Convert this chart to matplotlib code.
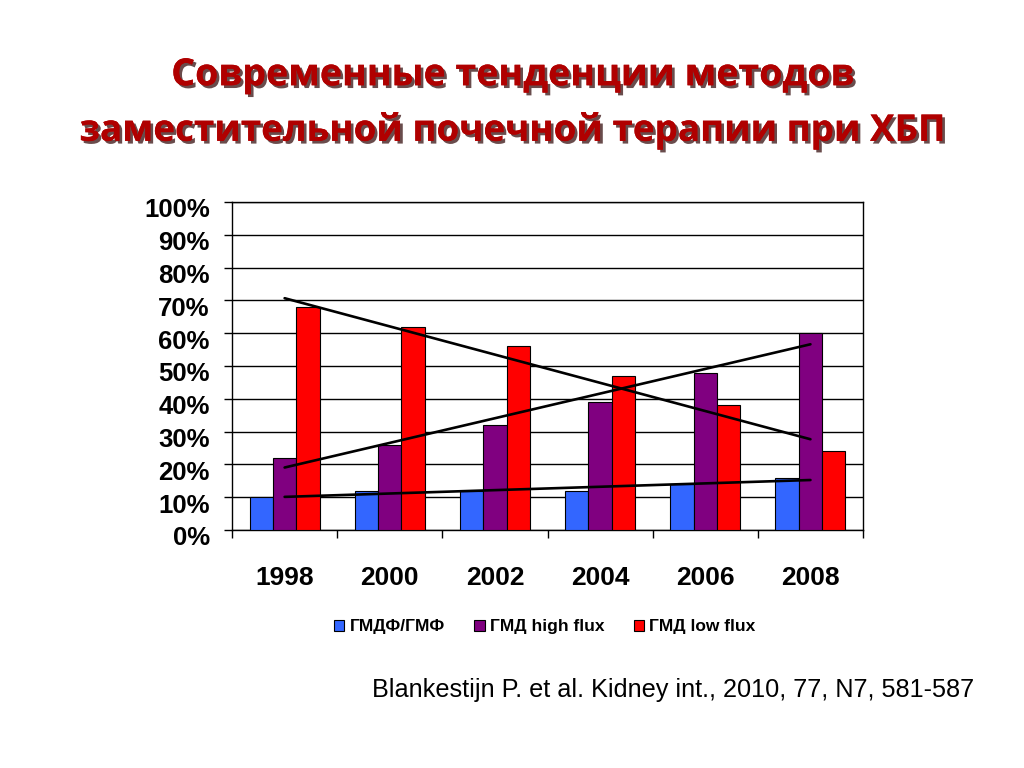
import numpy as np
import matplotlib.pyplot as plt
import matplotlib.patheffects as pe
import matplotlib.transforms as mtrans
from matplotlib.patches import Patch

years = ['1998', '2000', '2002', '2004', '2006', '2008']
gmdf = [10, 12, 12, 12, 14, 16]          # ГМДФ/ГМФ
high_flux = [22, 26, 32, 39, 48, 60]     # ГМД high flux
low_flux = [68, 62, 56, 47, 38, 24]      # ГМД low flux
series_names = ['ГМДФ/ГМФ', 'ГМД high flux', 'ГМД low flux']
colors = ['#3366FF', '#800080', '#FF0000']

fig = plt.figure(figsize=(10.24, 7.68), dpi=100)
ax = fig.add_axes([0.2266, 0.3099, 0.6162, 0.4271])

x = np.arange(len(years))
w = 0.222
for i, (vals, c) in enumerate(zip([gmdf, high_flux, low_flux], colors)):
    ax.bar(x + (i - 1) * w, vals, width=w, color=c, edgecolor='black',
           linewidth=0.8, zorder=3)

# linear trendlines (as in Excel)
for vals in [gmdf, high_flux, low_flux]:
    k, b = np.polyfit(x, vals, 1)
    ax.plot([x[0], x[-1]], [k * x[0] + b, k * x[-1] + b], color='black',
            lw=1.9, zorder=4, solid_capstyle='round')

ax.set_xlim(-0.5, len(years) - 0.5)
ax.set_ylim(0, 100)
ax.set_yticks(np.arange(0, 101, 10))
ax.set_yticklabels([f'{v}%' for v in range(0, 101, 10)],
                   fontsize=18.5, fontweight='bold', family='Liberation Sans')
ax.yaxis.grid(True, color='black', lw=1.0, zorder=0)
ax.tick_params(axis='y', length=6, width=1, pad=10, direction='out')
shift = mtrans.ScaledTranslation(0, -6 / 100, fig.dpi_scale_trans)
for lab in ax.get_yticklabels():
    lab.set_transform(lab.get_transform() + shift)

ax.set_xticks(x)
ax.set_xticklabels(years, fontsize=19, fontweight='bold', family='Liberation Sans')
ax.set_xticks(np.arange(-0.5, len(years)), minor=True)
ax.tick_params(axis='x', which='major', length=0, pad=26)
ax.tick_params(axis='x', which='minor', length=6, width=1, direction='out')
for s in ax.spines.values():
    s.set_color('black')
    s.set_linewidth(1.0)

handles = [Patch(facecolor=c, edgecolor='black', linewidth=0.8) for c in colors]
fig.legend(handles, series_names, loc='center', bbox_to_anchor=(0.532, 0.184),
           ncol=3, frameon=False, handlelength=0.6, handleheight=0.6,
           handletextpad=0.3, columnspacing=1.7,
           prop={'family': 'Liberation Sans', 'weight': 'bold', 'size': 12.5})

title_fx = [pe.withSimplePatchShadow(offset=(2, -2), shadow_rgbFace='#2a0000', alpha=0.7),
            pe.Normal()]
fig.text(0.5, 0.902, 'Современные тенденции методов', ha='center', va='center',
         fontsize=27, fontweight='bold', color='#B00000', family='Open Sans',
         path_effects=title_fx)
fig.text(0.5, 0.830, 'заместительной почечной терапии при ХБП', ha='center', va='center',
         fontsize=26.5, fontweight='bold', color='#B00000', family='Open Sans',
         path_effects=title_fx)

fig.text(0.657, 0.101, 'Blankestijn P. et al. Kidney int., 2010, 77, N7, 581-587',
         ha='center', va='center', fontsize=18.2, family='Liberation Sans')

fig.savefig('out.png', dpi=100)
